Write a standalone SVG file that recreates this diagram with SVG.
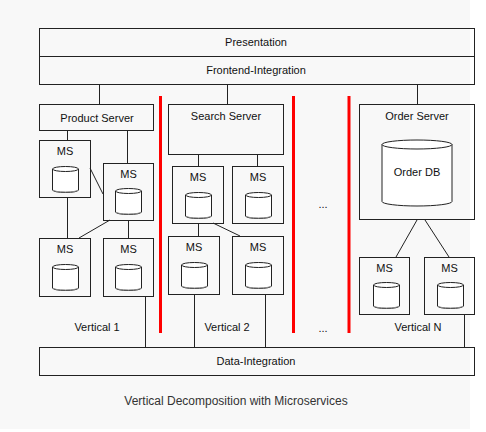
<svg xmlns="http://www.w3.org/2000/svg" xmlns:xlink="http://www.w3.org/1999/xlink" width="486" height="432" viewBox="0 0 486 432">
<style>
.box{fill:none;stroke:#222;stroke-width:1}
.ln{fill:none;stroke:#222;stroke-width:1}
.red{stroke:#ff0000;stroke-width:3}
.t{font-family:"Liberation Sans",Arial,sans-serif;font-size:11px;fill:#111;text-anchor:middle}
.cap{font-family:"Liberation Sans",Arial,sans-serif;font-size:12px;fill:#333;text-anchor:middle}
.cyl{fill:#fff;stroke:#222;stroke-width:1}
</style>
<defs>
<g id="cyl">
<path class="cyl" d="M0,2.5 A13,2.5 0 0 1 26,2.5 V23.5 A13,2.5 0 0 1 0,23.5 Z"/>
<path class="ln" d="M0,2.5 A13,2.5 0 0 0 26,2.5"/>
<path d="M0.5,23.5 A12.5,2 0 0 0 25.5,23.5" fill="none" stroke="#888" stroke-width="1"/>
</g>
</defs>
<rect x="0" y="0" width="470" height="429" fill="#f8f8f8"/>
<g id="connectors">
<path class="ln" d="M99.5,84 V104 M227.5,84 V104 M417.5,84 V104"/>
<path class="ln" d="M67.5,130 V140 M127.5,130 V163 M67.5,197 V238 M128.5,220 V238 M90,168 L103,194 M110,220 L79,238 M145.5,296 V347"/>
<path class="ln" d="M198.5,154 V166 M257.5,154 V166 M198.5,223 V236 M213,223 L240,236 M194.5,294 V347 M265.5,294 V347"/>
<path class="ln" d="M417,220 L396,257 M425,220 L449,257 M464.5,314 V347"/>
</g>
<g id="separators">
<line class="red" x1="160.5" y1="96" x2="160.5" y2="333"/>
<line class="red" x1="293.5" y1="96" x2="293.5" y2="333"/>
<line class="red" x1="349" y1="96" x2="349" y2="333"/>
</g>
<g id="presentation"><rect class="box" x="39.5" y="28.5" width="435" height="28"/><text class="t" x="256" y="46">Presentation</text></g>
<g id="frontend"><rect class="box" x="39.5" y="56.5" width="435" height="28"/><text class="t" x="256" y="74">Frontend-Integration</text></g>
<g id="product-server"><rect class="box" x="39.5" y="104.5" width="114" height="26"/><text class="t" x="97" y="121.5">Product Server</text></g>
<g id="ms1"><rect class="box" x="39.5" y="140.5" width="51" height="57"/><text class="t" x="65" y="155">MS</text><use xlink:href="#cyl" x="52.5" y="166.5"/></g>
<g id="ms2"><rect class="box" x="103.5" y="163.5" width="50" height="57"/><text class="t" x="128.5" y="178">MS</text><use xlink:href="#cyl" x="115.5" y="188.5"/></g>
<g id="ms3"><rect class="box" x="39.5" y="238.5" width="51" height="58"/><text class="t" x="65" y="253">MS</text><use xlink:href="#cyl" x="52.5" y="264.5"/></g>
<g id="ms4"><rect class="box" x="103.5" y="238.5" width="50" height="58"/><text class="t" x="128.5" y="253">MS</text><use xlink:href="#cyl" x="115.5" y="264.5"/></g>
<g id="search-server"><rect class="box" x="168.5" y="104.5" width="115" height="50"/><text class="t" x="226" y="120">Search Server</text></g>
<g id="ms5"><rect class="box" x="172.5" y="166.5" width="51" height="57"/><text class="t" x="198" y="181">MS</text><use xlink:href="#cyl" x="185.5" y="192.5"/></g>
<g id="ms6"><rect class="box" x="232.5" y="166.5" width="51" height="57"/><text class="t" x="258" y="181">MS</text><use xlink:href="#cyl" x="245.5" y="192.5"/></g>
<g id="ms7"><rect class="box" x="168.5" y="236.5" width="51" height="58"/><text class="t" x="194" y="251">MS</text><use xlink:href="#cyl" x="181.5" y="262.5"/></g>
<g id="ms8"><rect class="box" x="232.5" y="236.5" width="51" height="58"/><text class="t" x="258" y="251">MS</text><use xlink:href="#cyl" x="245.5" y="262.5"/></g>
<g id="order-server"><rect class="box" x="359.5" y="104.5" width="115" height="115"/><text class="t" x="417" y="120">Order Server</text>
<path class="cyl" d="M382,144.5 A35,4.5 0 0 1 452,144.5 V201.5 A35,4.5 0 0 1 382,201.5 Z"/>
<path class="ln" d="M382,144.5 A35,4.5 0 0 0 452,144.5"/>
<text class="t" x="417" y="176">Order DB</text></g>
<g id="ms9"><rect class="box" x="359.5" y="257.5" width="50" height="57"/><text class="t" x="384.5" y="272">MS</text><use xlink:href="#cyl" x="373.5" y="282.5"/></g>
<g id="ms10"><rect class="box" x="424.5" y="257.5" width="50" height="57"/><text class="t" x="449.5" y="272">MS</text><use xlink:href="#cyl" x="437.5" y="282.5"/></g>
<g id="data-integration"><rect class="box" x="39.5" y="347.5" width="435" height="28"/><text class="t" x="256" y="365">Data-Integration</text></g>
<g id="labels">
<text class="t" x="97" y="331">Vertical 1</text>
<text class="t" x="227" y="331">Vertical 2</text>
<text class="t" x="418" y="331">Vertical N</text>
<text class="t" x="323" y="208">...</text>
<text class="t" x="323" y="332">...</text>
<text class="cap" x="236" y="405">Vertical Decomposition with Microservices</text>
</g>
</svg>
